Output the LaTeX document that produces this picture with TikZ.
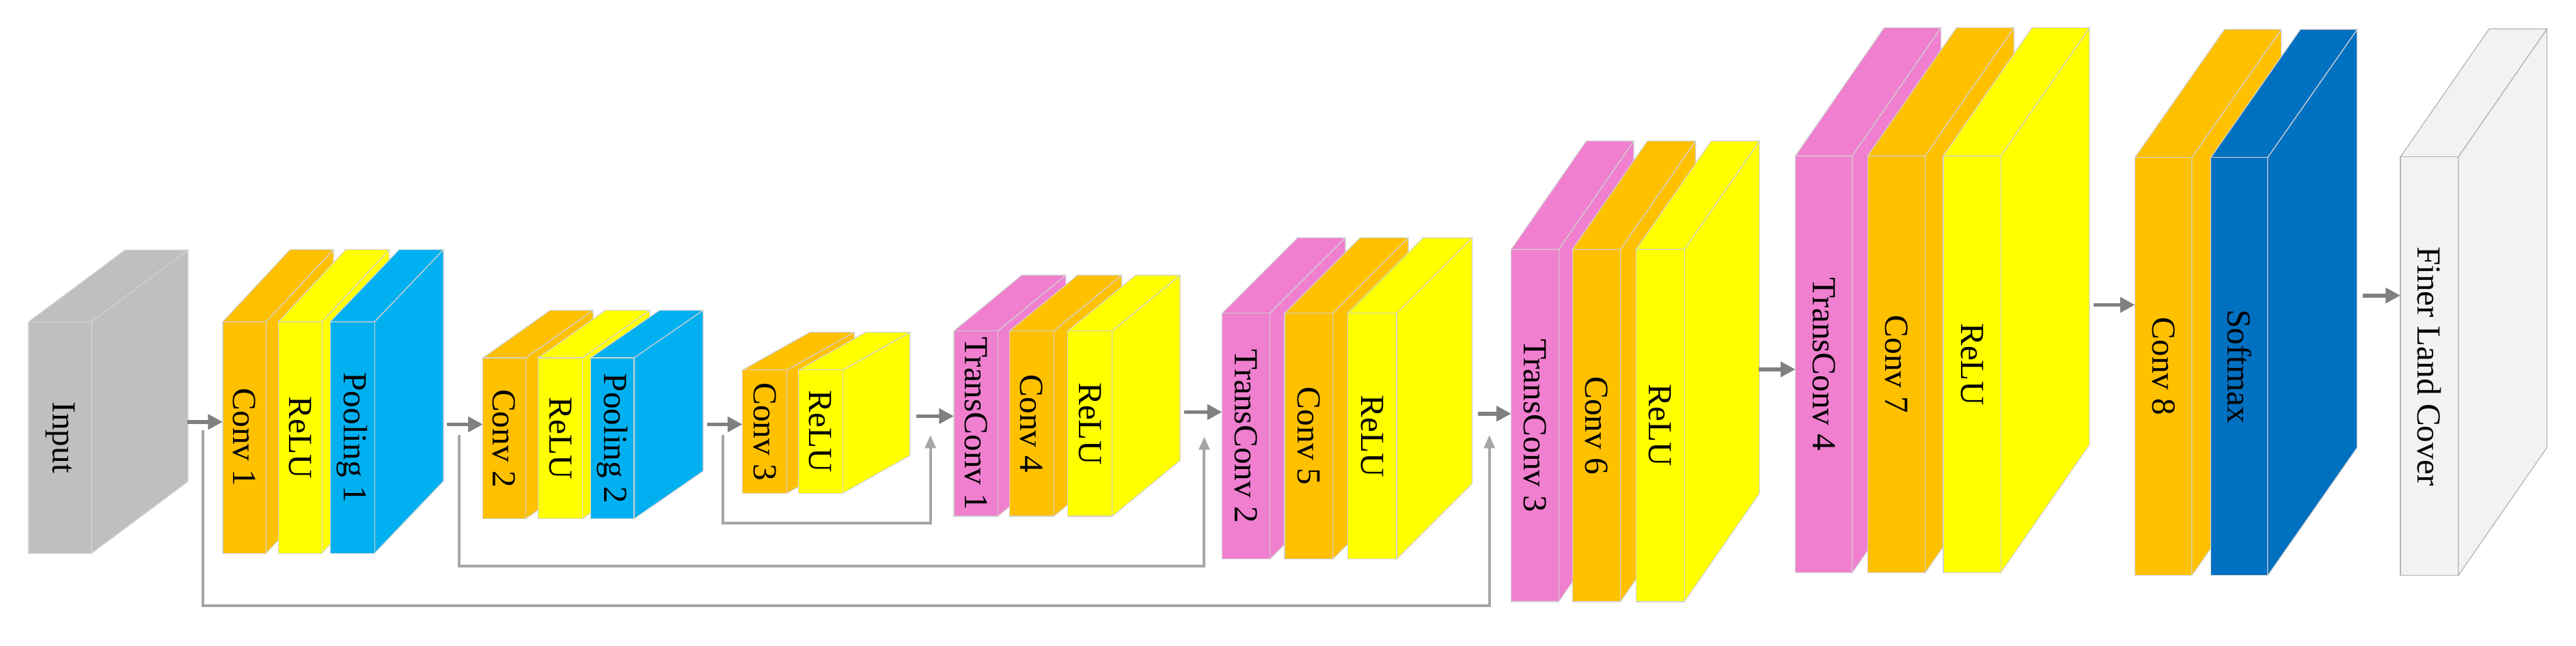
\documentclass[tikz,border=0pt]{standalone}
\usepackage{fontspec}
\setmainfont{Liberation Serif}
\usetikzlibrary{arrows.meta}
\definecolor{cgray}{HTML}{BFBFBF}
\definecolor{corange}{HTML}{FFC000}
\definecolor{cyellow}{HTML}{FFFF00}
\definecolor{cblue}{HTML}{00B0F0}
\definecolor{cpink}{HTML}{F07FCF}
\definecolor{cdblue}{HTML}{0070C0}
\definecolor{clight}{HTML}{F2F2F2}
\definecolor{carrow}{HTML}{808080}
\definecolor{cskip}{HTML}{A6A6A6}
\tikzset{
  face/.style={draw=black!18, line width=0.5pt, inner sep=0pt, outer sep=0pt, anchor=north west},
  lbl/.style={rotate=-90, font=\fontsize{20.5}{24}\selectfont, inner sep=0pt},
  arr/.style={draw=carrow, line width=2.4pt, -{Triangle[length=9pt,width=9pt]}},
  skip/.style={draw=cskip, line width=1.6pt, -{Triangle[length=8pt,width=6.5pt]}},
}
% name, x1, x2, ytop, ybot, dx, dy, color, label
\newcommand\blk[9]{%
  \path[face, fill=#8] (#3,#4) -- ++(#6,-#7) -- ++(0,#5-#4) -- (#3,#5) -- cycle;
  \path[face, fill=#8] (#2,#4) -- ++(#6,-#7) -- ++(#3-#2,0) -- (#3,#4) -- cycle;
  \node[face, fill=#8, minimum width={(#3-#2)*1pt}, minimum height={(#5-#4)*1pt}] (#1) at (#2,#4) {};
  \node[lbl] (#1-t) at (#1.center) {#9};
}
\begin{document}
\begin{tikzpicture}[x=1pt,y=-1pt]
\useasboundingbox[fill=white] (0,0) rectangle (1568.2,393.5);
% skip connections (drawn under boxes)
\blk{in}{17.5}{55.7}{196}{337}{58.7}{43.7}{cgray}{Input}
\blk{c1}{135.6}{162}{196}{337}{41}{44}{corange}{Conv 1}
\blk{r1}{169.5}{196}{196}{337}{41}{44}{cyellow}{ReLU}
\blk{p1}{201}{228}{196}{337}{42}{44}{cblue}{Pooling 1}
\blk{c2}{294}{320}{218}{316}{41}{29}{corange}{Conv 2}
\blk{r2}{327.6}{354.5}{218}{316}{41}{29}{cyellow}{ReLU}
\blk{p2}{359.5}{386}{218}{316}{42}{29}{cblue}{Pooling 2}
\blk{c3}{452}{479}{225.4}{300.4}{41}{23}{corange}{Conv 3}
\blk{r3}{486}{513}{225.4}{300.4}{41}{23}{cyellow}{ReLU}
\blk{t1}{580.7}{607.4}{201.6}{314.5}{41.4}{34}{cpink}{TransConv 1}
\blk{c4}{614.6}{641.5}{201.6}{314.5}{41.4}{34}{corange}{Conv 4}
\blk{r4}{650}{677}{201.6}{314.5}{41.4}{34}{cyellow}{ReLU}
\blk{t2}{744}{773}{190.8}{340.6}{46}{46}{cpink}{TransConv 2}
\blk{c5}{782}{811.3}{190.8}{340.6}{46}{46}{corange}{Conv 5}
\blk{r5}{820.4}{850.2}{190.8}{340.6}{46}{46}{cyellow}{ReLU}
\blk{t3}{920}{948.9}{151.9}{366.5}{45.7}{66}{cpink}{TransConv 3}
\blk{c6}{957.2}{986.5}{151.9}{366.5}{45.7}{66}{corange}{Conv 6}
\blk{r6}{996}{1025.4}{151.9}{366.5}{45.7}{66}{cyellow}{ReLU}
\blk{t4}{1093}{1127.6}{94.9}{348.9}{54}{78}{cpink}{TransConv 4}
\blk{c7}{1137}{1172}{94.9}{348.9}{54}{78}{corange}{Conv 7}
\blk{r7}{1183}{1218}{94.9}{348.9}{54}{78}{cyellow}{ReLU}
\blk{c8}{1299.7}{1334.3}{95.9}{350.6}{54.5}{78}{corange}{Conv 8}
\blk{sm}{1345.9}{1380.5}{95.9}{350.6}{54.5}{78}{cdblue}{Softmax}
\begin{scope}[face/.append style={draw=black!30}]
\blk{out}{1461.3}{1496.5}{95.6}{350.6}{54}{78}{clight}{Finer Land Cover}
\end{scope}
% main arrows
\coordinate (a0) at (114,257);
\coordinate (a1) at (272,258.5);
\coordinate (a2) at (430.4,258.5);
\coordinate (a3) at (558,253.5);
\coordinate (a4) at (721,251);
\coordinate (a5) at (899.7,252);
\coordinate (a6) at (1070.6,225);
\coordinate (a7) at (1274.6,185.7);
\coordinate (a8) at (1438.3,180);
\draw[arr] (a0) -- (a0 -| c1.west);
\draw[arr] (a1) -- (a1 -| c2.west);
\draw[arr] (a2) -- (a2 -| c3.west);
\draw[arr] (a3) -- (a3 -| t1.west);
\draw[arr] (a4) -- (a4 -| t2.west);
\draw[arr] (a5) -- (a5 -| t3.west);
\draw[arr] (a6) -- (a6 -| t4.west);
\draw[arr] (a7) -- (a7 -| c8.west);
\draw[arr] (a8) -- (a8 -| out.west);
% skips
\coordinate (s1a) at (123.5,262);
\coordinate (s1b) at (906.7,265);
\draw[skip] (s1a) -- (123.5,369) -- (906.7,369) -- (s1b);
\coordinate (s2a) at (279.5,265);
\coordinate (s2b) at (733.1,266);
\draw[skip] (s2a) -- (279.5,345) -- (733.1,345) -- (s2b);
\coordinate (s3a) at (440.2,265);
\coordinate (s3b) at (566.4,265);
\draw[skip] (s3a) -- (440.2,318.8) -- (566.4,318.8) -- (s3b);
\end{tikzpicture}
\end{document}
